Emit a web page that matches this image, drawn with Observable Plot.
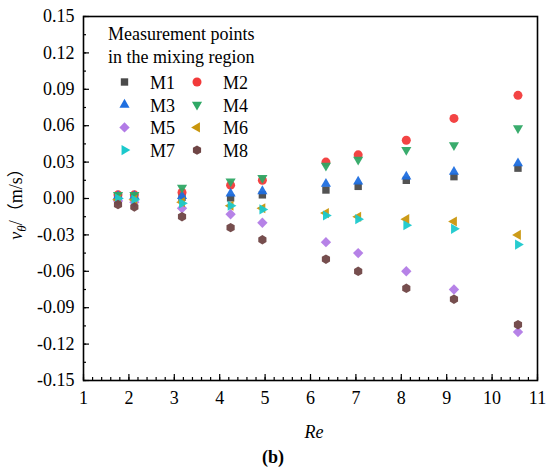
<!DOCTYPE html>
<html>
<head>
<meta charset="utf-8">
<script src="https://cdn.jsdelivr.net/npm/d3@7"></script>
<script src="https://cdn.jsdelivr.net/npm/@observablehq/plot@0.6"></script>
<style>
  html, body { margin: 0; padding: 0; background: #fff; }
  #chart { width: 550px; height: 472px; }
  #chart svg { font-family: "Liberation Serif", "DejaVu Serif", serif; }
</style>
</head>
<body>
<div id="chart"></div>
<script>
// ---- data ----
const re = [1.76, 2.12, 3.17, 4.24, 4.94, 6.34, 7.05, 8.11, 9.16, 10.57];
const seriesNames = ["M1", "M2", "M3", "M4", "M5", "M6", "M7", "M8"];
const M1 = [0.001, 0.001, 0.001, 0.0005, 0.003, 0.007, 0.010, 0.015, 0.018, 0.025];
const M2 = [0.003, 0.003, 0.005, 0.011, 0.015, 0.030, 0.036, 0.048, 0.066, 0.085];
const M3 = [0.002, 0.002, 0.002, 0.004, 0.006, 0.012, 0.014, 0.018, 0.022, 0.029];
const M4 = [0.003, 0.003, 0.009, 0.014, 0.017, 0.027, 0.032, 0.040, 0.044, 0.058];
const M5 = [-0.002, -0.003, -0.008, -0.013, -0.020, -0.036, -0.045, -0.060, -0.075, -0.110];
const M6 = [-0.001, -0.001, -0.003, -0.006, -0.008, -0.012, -0.015, -0.017, -0.019, -0.030];
const M7 = [0.000, -0.001, -0.004, -0.006, -0.009, -0.014, -0.017, -0.022, -0.025, -0.038];
const M8 = [-0.005, -0.007, -0.015, -0.024, -0.034, -0.050, -0.060, -0.074, -0.083, -0.104];
const seriesValues = [M1, M2, M3, M4, M5, M6, M7, M8];
const colors = ["#4a4a4a", "#f23a3a", "#1f6fe0", "#2fa865", "#b27be6", "#c9960c", "#1bc9cc", "#6f4545"];
const xTicks = [1, 2, 3, 4, 5, 6, 7, 8, 9, 10, 11];
const yTicks = [-0.15, -0.12, -0.09, -0.06, -0.03, 0.00, 0.03, 0.06, 0.09, 0.12, 0.15];
const legendTitle = ["Measurement points", "in the mixing region"];

// ---- custom symbols ----
function rad(size) { return Math.sqrt(size / Math.PI); }
function poly(ctx, pts) {
  ctx.moveTo(pts[0][0], pts[0][1]);
  for (let i = 1; i < pts.length; i++) ctx.lineTo(pts[i][0], pts[i][1]);
  ctx.closePath();
}
function triangle(angleDeg, k) {
  return {draw(ctx, size) {
    const R = rad(size) * k;
    const pts = [0, 120, 240].map(a => {
      const t = (a + angleDeg) * Math.PI / 180;
      return [R * Math.sin(t), -R * Math.cos(t)];
    });
    poly(ctx, pts);
  }};
}
const symSquare = {draw(ctx, size) { const h = rad(size) * 0.82; poly(ctx, [[-h,-h],[h,-h],[h,h],[-h,h]]); }};
const symCircle = {draw(ctx, size) { const r = rad(size) * 1.0; ctx.moveTo(r, 0); ctx.arc(0, 0, r, 0, 2 * Math.PI); ctx.closePath(); }};
const symDiamond = {draw(ctx, size) { const h = rad(size) * 1.15; poly(ctx, [[0,-h],[h,0],[0,h],[-h,0]]); }};
const symHexagon = {draw(ctx, size) {
  const r = rad(size) * 1.05;
  const pts = d3.range(6).map(i => { const t = (i * 60) * Math.PI / 180; return [r * Math.sin(t), -r * Math.cos(t)]; });
  poly(ctx, pts);
}};
const symbols = [symSquare, symCircle, triangle(0, 1.3), triangle(180, 1.3), symDiamond, triangle(270, 1.3), triangle(90, 1.3), symHexagon];

const data = seriesNames.flatMap((name, si) => re.map((x, i) => ({series: name, re: x, v: seriesValues[si][i]})));

const minorX = d3.range(1, 11.001, 0.2).map(d => +d.toFixed(1));
const minorY = d3.range(-0.15, 0.1501, 0.015).map(d => +d.toFixed(3));

const font = "Liberation Serif, DejaVu Serif, serif";
const cjk = "Noto Sans CJK SC, sans-serif";
const R = 4.5;

const plot = Plot.plot({
  width: 550,
  height: 472,
  marginLeft: 83,
  marginRight: 13,
  marginTop: 16,
  marginBottom: 92,
  style: {fontSize: "18px", color: "#000", background: "#fff"},
  x: {domain: [1, 11]},
  y: {domain: [-0.15, 0.15]},
  color: {domain: seriesNames, range: colors},
  symbol: {domain: seriesNames, range: symbols},
  marks: [
    Plot.axisX(minorX, {tickSize: -3, tickFormat: () => "", label: null, strokeWidth: 1.2}),
    Plot.axisX(xTicks, {tickSize: -6, tickPadding: 17, tickFormat: d => String(d), label: null, strokeWidth: 1.2, fontSize: 18, fontFamily: font, fontVariant: "normal"}),
    Plot.axisY(minorY, {tickSize: -3, tickFormat: () => "", label: null, strokeWidth: 1.2}),
    Plot.axisY(yTicks, {tickSize: -6, tickPadding: 15, tickFormat: d => d.toFixed(2), label: null, strokeWidth: 1.2, fontSize: 18, fontFamily: font, fontVariant: "normal"}),
    Plot.frame({stroke: "#000", strokeWidth: 1.6}),
    Plot.dot(data, {x: "re", y: "v", symbol: "series", fill: "series", r: R, fillOpacity: 0.95})
  ]
});

const svg = d3.select(plot);
svg.selectAll("text").attr("font-family", font);
// y label
const yl = svg.append("text")
  .attr("transform", "translate(22,200) rotate(-90)")
  .attr("text-anchor", "middle")
  .attr("font-family", font)
  .attr("font-size", 18)
  .attr("fill", "#000");
yl.append("tspan").attr("font-style", "italic").text("v");
yl.append("tspan").attr("font-style", "italic").attr("font-size", 13).attr("dy", 4).text("θ");
yl.append("tspan").attr("dy", -4).text("/");
yl.append("tspan").attr("font-family", cjk).attr("font-size", 17).text("（");
yl.append("tspan").text("m/s");
yl.append("tspan").attr("font-family", cjk).attr("font-size", 17).text("）");

// x label
svg.append("text").attr("x", 314).attr("y", 438).attr("text-anchor", "middle")
  .attr("font-family", font).attr("font-size", 18).attr("font-style", "italic").attr("fill", "#000").text("Re");
// caption
const cap = svg.append("text").attr("x", 273).attr("y", 463).attr("text-anchor", "middle")
  .attr("font-family", font).attr("font-size", 18).attr("font-weight", "bold").attr("fill", "#000");
cap.text("(b)");

// legend
const lg = svg.append("g").attr("font-family", font).attr("font-size", 18).attr("fill", "#000").attr("text-anchor", "start");
legendTitle.forEach((t, i) => lg.append("text").attr("x", 108).attr("y", 40 + i * 23).text(t));
seriesNames.forEach((name, i) => {
  const col = i % 2, row = Math.floor(i / 2);
  const cx = col === 0 ? 124.5 : 197, cy = 82 + row * 22.7;
  lg.append("path")
    .attr("transform", `translate(${cx},${cy})`)
    .attr("d", d3.symbol(symbols[i], R * R * Math.PI)())
    .attr("fill", colors[i]);
  lg.append("text").attr("x", col === 0 ? 150 : 223).attr("y", cy + 7).text(name);
});

document.getElementById("chart").appendChild(plot);
</script>
</body>
</html>
